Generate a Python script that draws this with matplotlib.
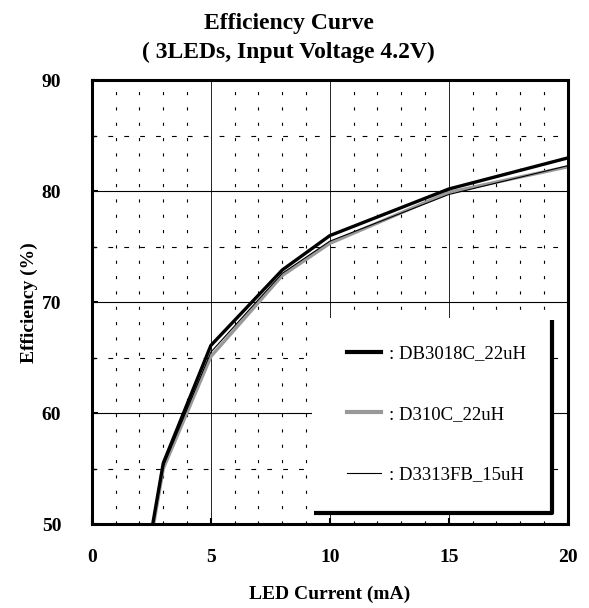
import matplotlib.pyplot as plt
from matplotlib.patches import Rectangle

# Data
current = [2.5, 3, 5, 8, 10, 15, 20]
eff_db3018c = [49.3, 55.5, 66.1, 72.9, 76.0, 80.2, 83.0]
eff_d310c = [48.8, 55.0, 65.1, 72.4, 75.3, 79.9, 82.2]
eff_d3313fb = [49.1, 55.2, 65.5, 72.6, 75.5, 79.7, 82.3]
labels = [': DB3018C_22uH', ': D310C_22uH', ': D3313FB_15uH']

serif = 'Liberation Serif'

fig = plt.figure(figsize=(5.89, 6.08), dpi=100)
ax = fig.add_axes([0.156, 0.138, 0.808, 0.730])

ax.set_xlim(0, 20)
ax.set_ylim(50, 90)

# grid: solid majors, dashed halves, short vertical dashes on each unit
for x in [5, 10, 15]:
    ax.axvline(x, color='black', lw=0.6, zorder=1)
for y in [60, 70, 80]:
    ax.axhline(y, color='black', lw=0.8, zorder=1)
for y in [55, 65, 75, 85]:
    ax.axhline(y, color='black', lw=0.8, dashes=(4.3, 10), zorder=1)
for x in range(1, 20):
    if x % 5:
        ax.axvline(x, color='black', lw=0.8, dashes=(2.8, 11), zorder=1)

ax.plot(current, eff_db3018c, color='black', lw=2.4, zorder=4)
ax.plot(current, eff_d310c, color='#999999', lw=2.4, zorder=3)
ax.plot(current, eff_d3313fb, color='black', lw=0.8, zorder=5)

# legend box with heavy right/bottom edge
ax.add_patch(Rectangle((0.462, 0.025), 0.504, 0.44, transform=ax.transAxes,
                       facecolor='white', edgecolor='none', zorder=6))
ax.plot([0.467, 0.966, 0.966], [0.025, 0.025, 0.46], transform=ax.transAxes,
        color='black', lw=3, zorder=7, solid_capstyle='butt')

h1, = ax.plot([], [], color='black', lw=3)
h2, = ax.plot([], [], color='#999999', lw=3)
h3, = ax.plot([], [], color='black', lw=0.8)
leg = ax.legend([h1, h2, h3], labels, loc='upper left',
                bbox_to_anchor=(0.50, 0.441), frameon=False,
                handlelength=1.85, handletextpad=0.4, labelspacing=2.32,
                prop={'family': serif, 'size': 13.5})
leg.set_zorder(8)

for s in ax.spines.values():
    s.set_linewidth(2.2)
    s.set_zorder(9)

ax.set_xticks([0, 5, 10, 15, 20])
ax.set_yticks([50, 60, 70, 80, 90])
ax.set_yticks([55, 65, 75, 85], minor=True)
ax.tick_params(axis='both', direction='in', length=4, width=1.5)
ax.tick_params(axis='y', which='minor', direction='in', length=3, width=1)
ax.tick_params(axis='y', pad=22)
ax.tick_params(axis='x', pad=18)
for lab in ax.get_xticklabels() + ax.get_yticklabels():
    lab.set_fontfamily(serif)
    lab.set_fontweight('bold')
    lab.set_fontsize(14)

ax.set_xlabel('LED Current (mA)', fontfamily=serif, fontweight='bold',
              fontsize=14, labelpad=14)
ax.set_ylabel('Efficiency (%)', fontfamily=serif, fontweight='bold',
              fontsize=14, labelpad=3)

fig.text(0.49, 0.962, 'Efficiency Curve', ha='center', va='center',
         fontfamily=serif, fontweight='bold', fontsize=17)
fig.text(0.49, 0.914, '( 3LEDs, Input Voltage 4.2V)', ha='center', va='center',
         fontfamily=serif, fontweight='bold', fontsize=17)

fig.savefig('out.png', dpi=100)
